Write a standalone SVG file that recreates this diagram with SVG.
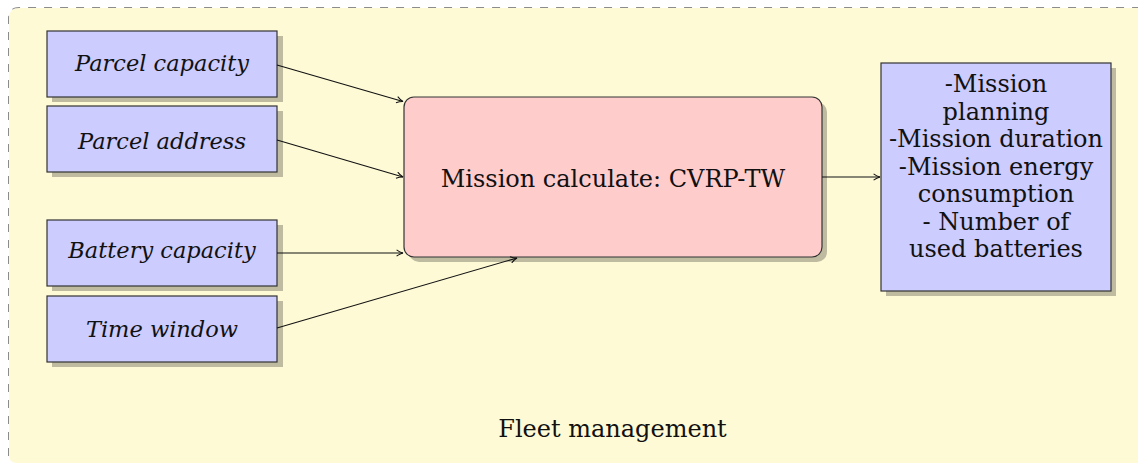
<svg xmlns="http://www.w3.org/2000/svg" width="1138" height="464" viewBox="0 0 1138 464">
<defs>
<style>
.bg{fill:#fffad6;stroke:none}
.frame{fill:none;stroke:#8c8c8c;stroke-width:1;stroke-dasharray:8 8}
.box{fill:#ccccff;stroke:#333;stroke-width:1.2}
.main{fill:#ffcccc;stroke:#333;stroke-width:1.2}
.shadow{fill:#000;fill-opacity:0.25}
.in{font-family:"DejaVu Serif","Liberation Serif",serif;font-style:italic;font-size:22.5px;fill:#111;text-anchor:middle}
.t{font-family:"DejaVu Serif","Liberation Serif",serif;font-size:24px;fill:#111;text-anchor:middle}
.conn line{stroke:#111;stroke-width:1.1;fill:none}
</style>
<marker id="arr" viewBox="0 0 10 10" refX="9" refY="5" markerWidth="8" markerHeight="8" markerUnits="userSpaceOnUse" orient="auto">
<path d="M1,1 Q5,4 9,5 Q5,6 1,9" fill="none" stroke="#111" stroke-width="1.3"/>
</marker>
</defs>
<g id="background">
<path class="bg" d="M9,18 Q9,8 19,8 L1138,8 L1138,463 L17,463 Q9,463 9,455 Z"/>
<path class="frame" d="M8.5,456 L8.5,18 Q8.5,7.5 19,7.5 L1138,7.5"/>
</g>
<g id="node-parcel-capacity">
<rect class="shadow" x="52" y="36" width="231" height="66"/>
<rect class="box" x="47" y="31" width="230" height="66"/>
<text class="in" x="162" y="71">Parcel capacity</text>
</g>
<g id="node-parcel-address">
<rect class="shadow" x="52" y="111" width="231" height="66"/>
<rect class="box" x="47" y="106" width="230" height="66"/>
<text class="in" x="162" y="149">Parcel address</text>
</g>
<g id="node-battery-capacity">
<rect class="shadow" x="52" y="225" width="231" height="66"/>
<rect class="box" x="47" y="220" width="230" height="66"/>
<text class="in" x="162" y="258">Battery capacity</text>
</g>
<g id="node-time-window">
<rect class="shadow" x="52" y="301" width="231" height="66"/>
<rect class="box" x="47" y="296" width="230" height="66"/>
<text class="in" x="162" y="337">Time window</text>
</g>
<g id="node-mission-calculate">
<rect class="shadow" x="409" y="102" width="418" height="160" rx="10"/>
<rect class="main" x="404" y="97" width="418" height="160" rx="10"/>
<text class="t" x="613" y="187">Mission calculate: CVRP-TW</text>
</g>
<g id="node-outputs">
<rect class="shadow" x="886" y="68" width="230" height="228"/>
<rect class="box" x="881" y="63" width="230" height="228"/>
<text class="t" x="996" y="92">-Mission</text>
<text class="t" x="996" y="119.5">planning</text>
<text class="t" x="996" y="147">-Mission duration</text>
<text class="t" x="996" y="174.5">-Mission energy</text>
<text class="t" x="996" y="202">consumption</text>
<text class="t" x="996" y="229.5">- Number of</text>
<text class="t" x="996" y="257">used batteries</text>
</g>
<g id="label-fleet">
<text class="t" x="612.5" y="437">Fleet management</text>
</g>
<g id="connectors" class="conn">
<line x1="277" y1="65" x2="403" y2="101.5" marker-end="url(#arr)"/>
<line x1="277" y1="140" x2="403" y2="177" marker-end="url(#arr)"/>
<line x1="277" y1="253" x2="403" y2="253" marker-end="url(#arr)"/>
<line x1="277" y1="328" x2="517" y2="258" marker-end="url(#arr)"/>
<line x1="822" y1="177" x2="880" y2="177" marker-end="url(#arr)"/>
</g>
</svg>
